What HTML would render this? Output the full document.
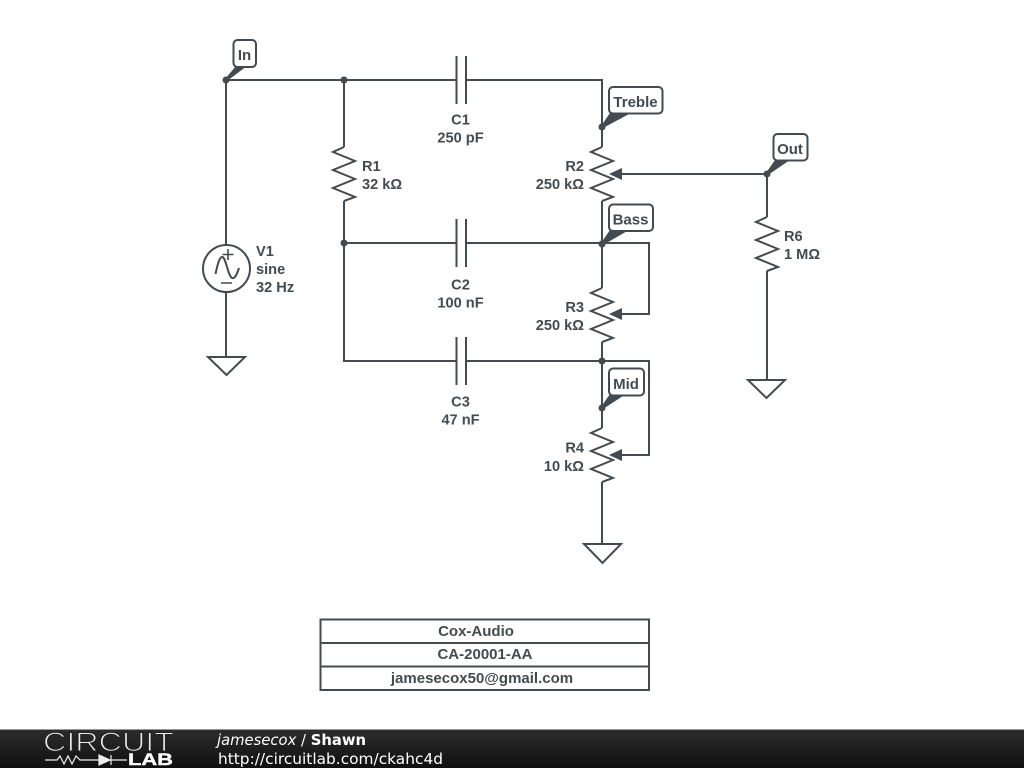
<!DOCTYPE html>
<html><head><meta charset="utf-8"><style>
html,body{margin:0;padding:0;background:#fff;width:1024px;height:768px;overflow:hidden}
svg{display:block}
.w{fill:none;stroke:#444b50;stroke-width:2}
.f{fill:#444b50}
.t{font-family:"Liberation Sans",sans-serif;font-weight:bold;font-size:15px;fill:#444b50}
.c{font-size:14.600px}
.m{text-anchor:middle}.e{text-anchor:end}
.lb{fill:#fff;stroke:#444b50;stroke-width:2}
.d{font-family:"DejaVu Sans",sans-serif;font-size:15px;fill:#fff}
</style></head><body>
<svg width="1024" height="768" viewBox="0 0 1024 768" xmlns="http://www.w3.org/2000/svg">
<defs><linearGradient id="g" x1="0" y1="0" x2="0" y2="1"><stop offset="0" stop-color="#2d2d2d"/><stop offset="1" stop-color="#101010"/></linearGradient></defs>
<!-- wires -->
<path class="w" d="M226 80H456M466 80H602V147M602 201V288M602 342V428M602 482V544"/>
<path class="w" d="M344 80V147M344 201V361H456M466 361H602H649V455H612"/>
<path class="w" d="M344 243H456M466 243H649V314H612"/>
<path class="w" d="M226 80V245M226 292V357"/>
<path class="w" d="M767 174H612M767 174V217M767 271V380"/>
<!-- capacitors -->
<path class="w" d="M456.5 56V104M466 56V104M456.5 219V267M466 219V267M456.5 337V385M466 337V385"/>
<!-- resistors -->
<path class="w" d="M344 147L333 152L355 161L333 170L355 179L333 188L355 197L344 201"/>
<path class="w" d="M602 147L591 152L613 161L591 170L613 179L591 188L613 197L602 201"/>
<path class="w" d="M602 288L591 293L613 302L591 311L613 320L591 329L613 338L602 342"/>
<path class="w" d="M602 428L591 433L613 442L591 451L613 460L591 469L613 478L602 482"/>
<path class="w" d="M767 217L756 222L778 231L756 240L778 249L756 258L778 267L767 271"/>
<!-- wiper arrows -->
<path class="f" d="M609 174L622 168V180Z"/>
<path class="f" d="M609 314L622 308V320Z"/>
<path class="f" d="M609 455L622 449V461Z"/>
<!-- source -->
<circle class="w" cx="226.500" cy="268.500" r="23.500"/>
<path class="w" style="stroke-width:1.600" d="M228 249V260M222.500 254.500H233.500M221 283H232"/>
<path class="w" d="M215.500 274C218 262 220 256.500 222.500 257C226 258 228 276 232 278C235 279 237 274 239 268"/>
<!-- grounds -->
<path class="w" d="M208 357H245L226.500 375ZM584 544H621L602.500 563ZM748 380H785L766.500 398Z"/>
<!-- junctions -->
<g class="f"><circle cx="226" cy="80" r="3.500"/><circle cx="344" cy="80" r="3.500"/><circle cx="344" cy="243" r="3.500"/><circle cx="602" cy="127" r="3.500"/><circle cx="602" cy="244" r="3.500"/><circle cx="602" cy="361" r="3.500"/><circle cx="602" cy="408" r="3.500"/><circle cx="767" cy="174" r="3.500"/></g>
<!-- net labels -->
<path class="f" d="M225 79L236 66H247L227 81Z"/>
<rect class="lb" x="233.500" y="40" width="22.500" height="27" rx="4"/>
<path class="f" d="M601 126L610 113H631L603 128Z"/>
<rect class="lb" x="609" y="87" width="53.500" height="26.500" rx="4"/>
<path class="f" d="M601 243L610 230H629L603 245Z"/>
<rect class="lb" x="609" y="204.500" width="44" height="26.500" rx="4"/>
<path class="f" d="M601 407L610 394H626L603 409Z"/>
<rect class="lb" x="609" y="368.500" width="35" height="27" rx="4"/>
<path class="f" d="M766 173L775 160H790L768 175Z"/>
<rect class="lb" x="773.500" y="134" width="34" height="26.500" rx="4"/>
<g class="t">
<text x="244.500" y="60" class="m">In</text>
<text x="635.500" y="107" class="m">Treble</text>
<text x="630.500" y="224.500" class="m">Bass</text>
<text x="626" y="389" class="m">Mid</text>
<text x="790" y="154" class="m">Out</text>
</g>
<g class="t c">
<text x="460.500" y="124.500" class="m">C1</text><text x="460.500" y="142.500" class="m">250 pF</text>
<text x="460.500" y="289.500" class="m">C2</text><text x="460.500" y="307.500" class="m">100 nF</text>
<text x="460.500" y="406.500" class="m">C3</text><text x="460.500" y="424.500" class="m">47 nF</text>
<text x="362" y="171">R1</text><text x="362" y="189">32 kΩ</text>
<text x="584" y="171" class="e">R2</text><text x="584" y="189" class="e">250 kΩ</text>
<text x="584" y="312" class="e">R3</text><text x="584" y="330" class="e">250 kΩ</text>
<text x="584" y="452.500" class="e">R4</text><text x="584" y="471" class="e">10 kΩ</text>
<text x="784" y="241">R6</text><text x="784" y="259">1 MΩ</text>
<text x="256" y="256">V1</text><text x="256" y="274">sine</text><text x="256" y="292">32 Hz</text>
</g>
<!-- title block -->
<rect class="w" x="320.500" y="619.500" width="328.500" height="70.500"/>
<path class="w" d="M320 643H649M320 666.500H649"/>
<g class="t">
<text x="476" y="636" class="m">Cox-Audio</text>
<text x="485" y="659" class="m">CA-20001-AA</text>
<text x="482" y="683" class="m">jamesecox50@gmail.com</text>
</g>
<!-- footer -->
<rect x="0" y="729" width="1024" height="39" fill="url(#g)"/>
<rect x="0" y="729" width="1024" height="1" fill="#999"/>
<text x="43" y="751" font-family="Liberation Sans,sans-serif" font-size="26.500" fill="#eee" stroke="#222" stroke-width="1.100" textLength="131" lengthAdjust="spacingAndGlyphs">CIRCUIT</text>
<path d="M45 760H57L60 756L64 764L68 756L72 764L76 756L80 760H99M99 755V765L110 760ZM111 755V765M111 760H127" fill="none" stroke="#eee" stroke-width="1.200"/>
<path d="M99 755V765L110 760Z" fill="#eee"/>
<text x="128" y="765" font-family="Liberation Sans,sans-serif" font-weight="bold" font-size="17" fill="#fff" stroke="#fff" stroke-width="0.400" textLength="45" lengthAdjust="spacingAndGlyphs">LAB</text>
<text x="217" y="745" class="d" textLength="149" lengthAdjust="spacingAndGlyphs"><tspan font-style="italic">jamesecox</tspan> / <tspan font-weight="bold">Shawn</tspan></text>
<text x="218" y="764" class="d" textLength="225" lengthAdjust="spacingAndGlyphs">http://circuitlab.com/ckahc4d</text>
</svg>
</body></html>
